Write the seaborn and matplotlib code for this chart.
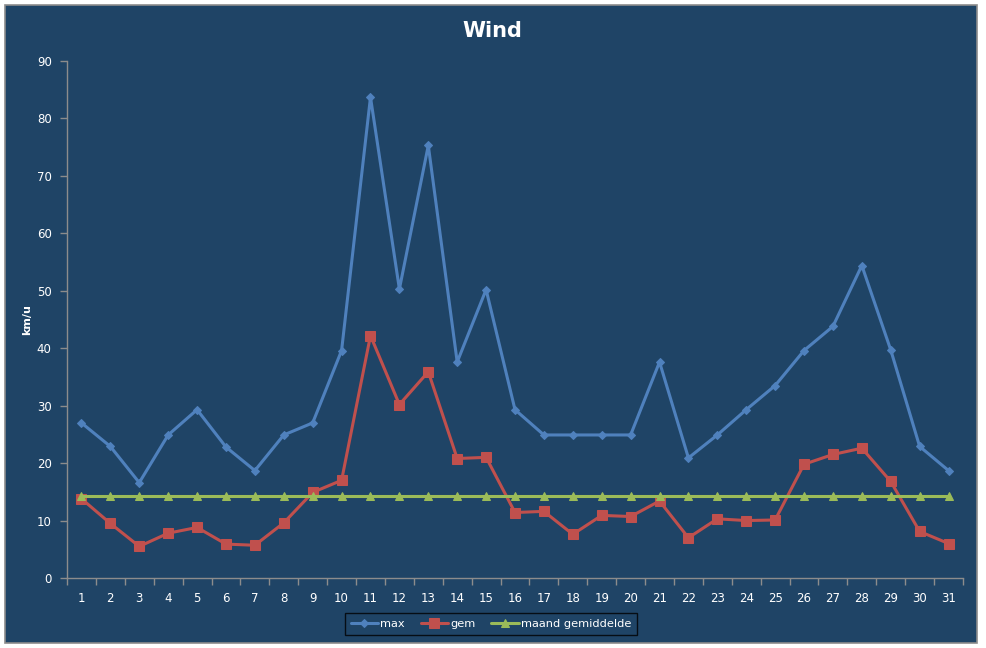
import matplotlib
matplotlib.use("Agg")
import matplotlib.pyplot as plt
import seaborn as sns
import pandas as pd
from matplotlib.patches import Rectangle

days = list(range(1, 32))
max_wind = [27.0, 22.9, 16.6, 24.9, 29.3, 22.8, 18.7, 24.9, 27.0, 39.6, 83.7,
            50.3, 75.3, 37.6, 50.2, 29.3, 24.9, 24.9, 24.9, 24.9, 37.6, 20.9,
            24.9, 29.3, 33.5, 39.6, 43.8, 54.4, 39.7, 22.9, 18.7]
gem_wind = [13.8, 9.5, 5.5, 7.8, 8.8, 5.9, 5.7, 9.6, 14.9, 17.0, 42.2,
            30.2, 35.9, 20.8, 21.0, 11.4, 11.6, 7.6, 10.9, 10.7, 13.4, 7.0,
            10.3, 10.0, 10.1, 19.8, 21.5, 22.6, 16.8, 8.1, 6.0]
maand_gem = [14.2] * 31
series_names = ["max", "gem", "maand gemiddelde"]
y_ticks = list(range(0, 100, 10))

bg = "#1F4466"
sns.set_style("white")
plt.rcParams["font.family"] = ["DejaVu Sans"]

fig = plt.figure(figsize=(9.87, 6.48), dpi=100)
fig.patch.set_facecolor("white")
frame = Rectangle((5/987, 5/648), 972/987, 638/648, transform=fig.transFigure,
                  facecolor=bg, edgecolor="#8C8C8C", linewidth=1.2, zorder=-10)
fig.add_artist(frame)

ax = fig.add_axes([67/987, 70/648, 896/987, 517/648])
ax.set_zorder(5)
ax.set_facecolor(bg)

df = pd.DataFrame({"dag": days, "max": max_wind, "gem": gem_wind, "maand gemiddelde": maand_gem})

styles = {
    "max": dict(color="#4F81BD", marker="D", markersize=4.5),
    "gem": dict(color="#C0504D", marker="s", markersize=6.5),
    "maand gemiddelde": dict(color="#9BBB59", marker="^", markersize=6),
}
for name in series_names:
    st = styles[name]
    sns.lineplot(data=df, x="dag", y=name, ax=ax, color=st["color"], marker=st["marker"],
                 markersize=st["markersize"], markeredgecolor=st["color"], linewidth=2.2,
                 label=name)

ax.set_xlim(0.5, 31.5)
ax.set_ylim(0, 90)
ax.set_yticks(y_ticks)
ax.set_xticks(days)
ax.set_xticks([d + 0.5 for d in [0] + days], minor=True)
ax.tick_params(axis="x", which="major", bottom=False, length=0, pad=10, labelcolor="white",
               labelsize=8.5)
ax.tick_params(axis="x", which="minor", bottom=True, length=5, direction="out",
               color="#8C8C8C", width=1)
ax.tick_params(axis="y", which="major", left=True, length=5, direction="out", color="#8C8C8C",
               width=1, labelcolor="white", labelsize=8.5, pad=6)

for s in ["top", "right"]:
    ax.spines[s].set_visible(False)
for s in ["left", "bottom"]:
    ax.spines[s].set_color("#8C8C8C")
    ax.spines[s].set_linewidth(1)

ax.set_xlabel("")
ax.set_ylabel("km/u", color="white", fontsize=8, fontweight="bold")
ax.yaxis.set_label_coords(-35/896, 0.5)
fig.text(492/987, 1 - 31/648, "Wind", color="white", fontsize=15, fontweight="bold",
         ha="center", va="center")

leg = ax.legend(loc="center", bbox_to_anchor=(491/987, 24/648), bbox_transform=fig.transFigure,
                ncol=3, frameon=True, fontsize=8.2, handlelength=2.4, columnspacing=1.4,
                handletextpad=0.2, borderpad=0.5, fancybox=False)
leg.get_frame().set_facecolor(bg)
leg.get_frame().set_edgecolor("black")
leg.get_frame().set_linewidth(1)
for t in leg.get_texts():
    t.set_color("white")

fig.savefig("out.png", dpi=100, facecolor=fig.get_facecolor())
